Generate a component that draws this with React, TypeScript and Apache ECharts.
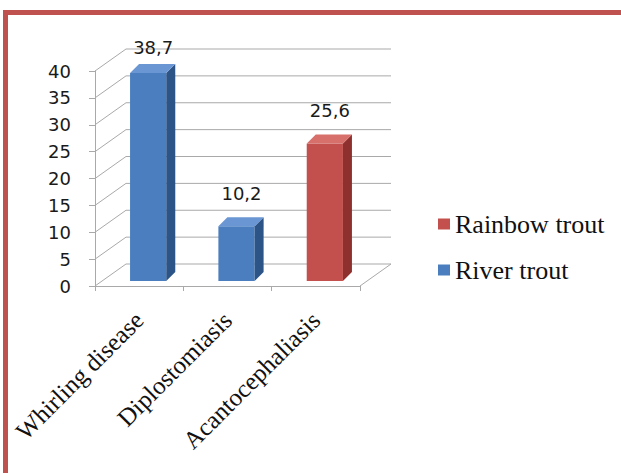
import React, { useEffect, useRef } from "react";
import * as echarts from "echarts";

// Chart data
const categories = ["Whirling disease", "Diplostomiasis", "Acantocephaliasis"];
const riverTrout: (number | null)[] = [38.7, 10.2, null];
const rainbowTrout: (number | null)[] = [null, null, 25.6];
const yTicks = [0, 5, 10, 15, 20, 25, 30, 35, 40];

// 3D look: depth offset of the back wall and of the bars
const WALL_DX = 31;
const WALL_DY = -22;
const BAR_DX = 9;
const BAR_DY = -5;
const BAR_DEPTH_X = 9;
const BAR_DEPTH_Y = -9;
const GRID_COLOR = "#a9a9a9";

const palette = {
  blue: { front: "#4a7ebf", side: "#2d5487", top: "#6a97d3" },
  red: { front: "#c4504d", side: "#8e302d", top: "#d76f6b" },
};

const toData = (vals: (number | null)[]) =>
  vals.map((v, i) => (v == null ? null : [i, v])).filter((d) => d != null);

const fmt = (v: number) => v.toFixed(1).replace(".", ",");

function barRenderer(colors: { front: string; side: string; top: string }) {
  return (params: any, api: any) => {
    const idx = api.value(0);
    const val = api.value(1);
    const base = api.coord([idx, 0]);
    const head = api.coord([idx, val]);
    const band = api.size([1, 0])[0];
    const w = band * 0.41;
    const cx = base[0] + BAR_DX;
    const L = cx - w / 2;
    const R = cx + w / 2;
    const B = base[1] + BAR_DY;
    const T = head[1] + BAR_DY;
    const plotTop = params.coordSys.y;
    const labelY = Math.max(T - 33, plotTop - 24);
    return {
      type: "group",
      children: [
        {
          type: "rect",
          shape: { x: L, y: T, width: w, height: B - T },
          style: { fill: colors.front },
        },
        {
          type: "polygon",
          shape: {
            points: [
              [R, T],
              [R + BAR_DEPTH_X, T + BAR_DEPTH_Y],
              [R + BAR_DEPTH_X, B + BAR_DEPTH_Y],
              [R, B],
            ],
          },
          style: { fill: colors.side },
        },
        {
          type: "polygon",
          shape: {
            points: [
              [L, T],
              [L + BAR_DEPTH_X, T + BAR_DEPTH_Y],
              [R + BAR_DEPTH_X, T + BAR_DEPTH_Y],
              [R, T],
            ],
          },
          style: { fill: colors.top },
        },
        {
          type: "text",
          style: {
            x: cx + 5,
            y: labelY,
            text: fmt(val),
            fill: "#1a1a1a",
            font: '18px "DejaVu Sans"',
            align: "center",
            verticalAlign: "middle",
          },
        },
      ],
    };
  };
}

// Side wall diagonals, back wall gridlines and floor outline
function frameRenderer(params: any, api: any) {
  const v = api.value(1);
  const cs = params.coordSys;
  const y = api.coord([0, v])[1];
  const x0 = cs.x;
  const x1 = cs.x + cs.width;
  const children: any[] = [
    {
      type: "polyline",
      shape: {
        points: [
          [x0, y],
          [x0 + WALL_DX, y + WALL_DY],
          [x1 + WALL_DX, y + WALL_DY],
        ],
      },
      style: { stroke: GRID_COLOR, lineWidth: 1, fill: "none" },
    },
  ];
  if (v === 0) {
    children.push({
      type: "line",
      shape: { x1: x1, y1: y, x2: x1 + WALL_DX, y2: y + WALL_DY },
      style: { stroke: GRID_COLOR, lineWidth: 1 },
    });
  }
  return { type: "group", children };
}

export default function App() {
  const ref = useRef<HTMLDivElement>(null);

  useEffect(() => {
    if (!ref.current) return;
    const chart = echarts.init(ref.current, null, { renderer: "svg" });
    chart.setOption({
      animation: false,
      backgroundColor: "#ffffff",
      graphic: [
        {
          type: "rect",
          shape: { x: 3, y: 10, width: 618, height: 5 },
          style: { fill: "#bf524f" },
        },
        {
          type: "rect",
          shape: { x: 3, y: 10, width: 5, height: 463 },
          style: { fill: "#bf524f" },
        },
      ],
      grid: { left: 95, right: 261, top: 71, bottom: 187 },
      legend: {
        orient: "vertical",
        left: 433,
        top: 206,
        itemWidth: 12,
        itemHeight: 11,
        itemGap: 20,
        icon: "rect",
        data: ["Rainbow trout", "River trout"],
        textStyle: {
          fontFamily: '"Liberation Serif"',
          fontSize: 26,
          color: "#111",
        },
      },
      xAxis: {
        type: "category",
        data: categories,
        axisLine: { lineStyle: { color: GRID_COLOR } },
        axisTick: { show: true, length: 5, lineStyle: { color: GRID_COLOR } },
        axisLabel: {
          rotate: 45,
          margin: 30,
          interval: 0,
          fontFamily: '"Liberation Serif"',
          fontSize: 25,
          color: "#111",
        },
      },
      yAxis: {
        type: "value",
        min: 0,
        max: 40,
        interval: 5,
        axisLine: { show: true, lineStyle: { color: GRID_COLOR } },
        axisTick: { show: true, length: 6, lineStyle: { color: GRID_COLOR } },
        splitLine: { show: false },
        axisLabel: {
          margin: 24,
          fontFamily: '"DejaVu Sans"',
          fontSize: 18,
          color: "#1a1a1a",
        },
      },
      series: [
        {
          name: "frame",
          type: "custom",
          silent: true,
          z: 1,
          renderItem: frameRenderer,
          data: yTicks.map((t) => [0, t]),
          encode: { x: 0, y: 1 },
        },
        {
          name: "River trout",
          type: "custom",
          z: 3,
          itemStyle: { color: palette.blue.front },
          renderItem: barRenderer(palette.blue),
          data: toData(riverTrout),
          encode: { x: 0, y: 1 },
        },
        {
          name: "Rainbow trout",
          type: "custom",
          z: 3,
          itemStyle: { color: palette.red.front },
          renderItem: barRenderer(palette.red),
          data: toData(rainbowTrout),
          encode: { x: 0, y: 1 },
        },
      ],
    });
    return () => chart.dispose();
  }, []);

  return (
    <div
      ref={ref}
      style={{ position: "fixed", left: 0, top: 0, width: 621, height: 473 }}
    />
  );
}
